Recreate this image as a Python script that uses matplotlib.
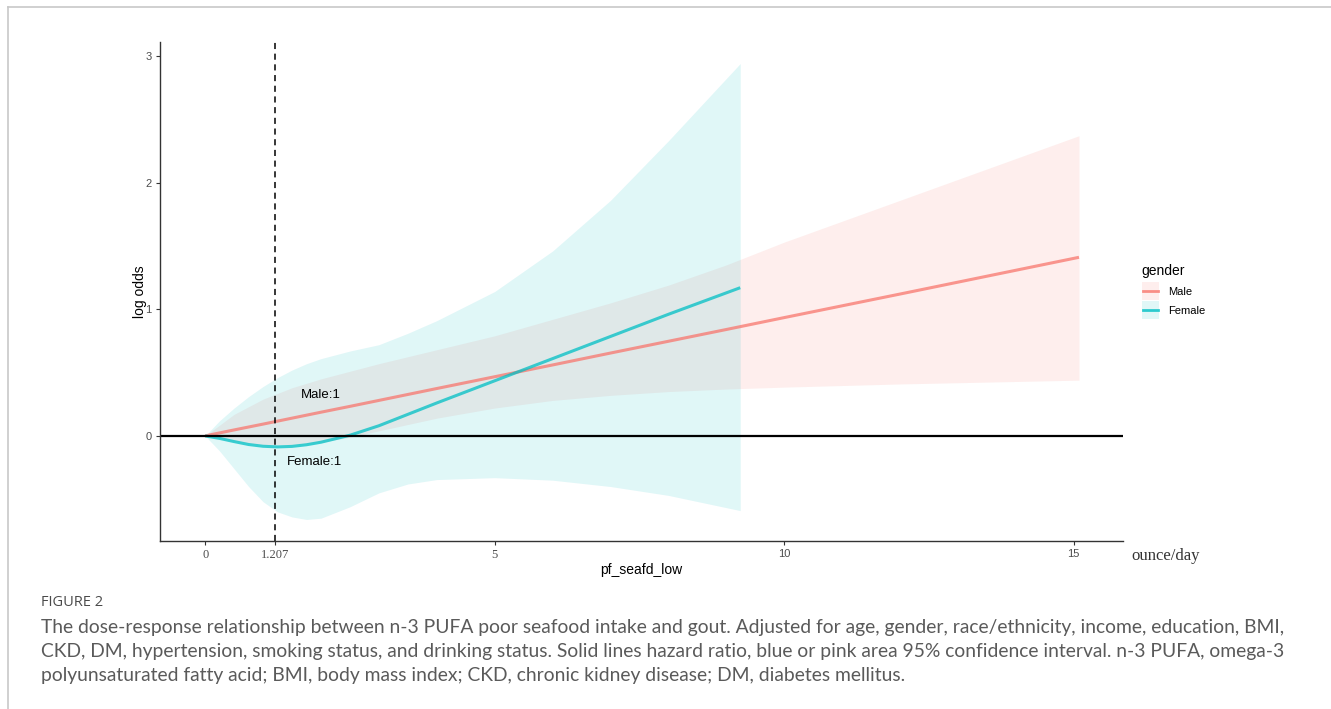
import matplotlib
matplotlib.use("Agg")
import matplotlib.pyplot as plt
from matplotlib.lines import Line2D
from matplotlib.patches import Rectangle

# ---- data ----
male_x     = [0, 0.5, 1.0, 1.5, 2.0, 2.5, 3.0, 4.0, 5.0, 6.0, 7.0, 8.0, 9.0, 10.0, 12.0, 15.09]
male_fit   = [0, 0.047, 0.093, 0.14, 0.187, 0.233, 0.28, 0.374, 0.467, 0.56, 0.654, 0.747, 0.84, 0.934, 1.12, 1.41]
male_lo    = [0, -0.04, -0.07, -0.07, -0.05, -0.01, 0.04, 0.14, 0.22, 0.28, 0.32, 0.35, 0.37, 0.385, 0.41, 0.44]
male_hi    = [0, 0.17, 0.29, 0.38, 0.45, 0.51, 0.57, 0.68, 0.79, 0.92, 1.05, 1.19, 1.35, 1.53, 1.86, 2.37]

fem_x      = [0, 0.25, 0.5, 0.75, 1.0, 1.25, 1.5, 1.75, 2.0, 2.5, 3.0, 3.5, 4.0, 5.0, 6.0, 7.0, 8.0, 9.24]
fem_fit    = [0, -0.02, -0.045, -0.068, -0.082, -0.087, -0.083, -0.07, -0.05, 0.005, 0.08, 0.17, 0.26, 0.435, 0.61, 0.785, 0.96, 1.17]
fem_lo     = [0, -0.12, -0.26, -0.40, -0.52, -0.60, -0.64, -0.66, -0.65, -0.56, -0.45, -0.38, -0.345, -0.33, -0.35, -0.40, -0.47, -0.59]
fem_hi     = [0, 0.12, 0.22, 0.31, 0.39, 0.46, 0.52, 0.57, 0.61, 0.67, 0.72, 0.81, 0.91, 1.14, 1.46, 1.86, 2.33, 2.94]

x_ticks      = [0, 1.207, 5, 10, 15]
x_ticklabels = ["0", "1.207", "5", "10", "15"]
y_ticks      = [0, 1, 2, 3]
cutoff       = 1.207

male_col = "#F8766D"
fem_col = "#00BFC4"
SANS = "Liberation Sans"

fig = plt.figure(figsize=(13.31, 7.09), dpi=100)

# frame lines of the page
fig.add_artist(Line2D([8/1331, 1], [1 - 7/709, 1 - 7/709], color="#c8c8c8", lw=1.2))
fig.add_artist(Line2D([8/1331, 8/1331], [0, 1 - 7/709], color="#c8c8c8", lw=1.2))

ax = fig.add_axes([160/1331, 1 - 541/709, 963/1331, 499/709])
ax.set_xlim(-0.78, 15.85)
ax.set_ylim(-0.83, 3.11)

ax.fill_between(male_x, male_lo, male_hi, color=male_col, alpha=0.12, lw=0)
ax.fill_between(fem_x, fem_lo, fem_hi, color=fem_col, alpha=0.12, lw=0)
ax.plot(male_x, male_fit, color=male_col, alpha=0.75, lw=2.2, solid_capstyle="butt")
ax.plot(fem_x, fem_fit, color=fem_col, alpha=0.75, lw=2.2, solid_capstyle="butt")

ax.axhline(0, color="black", lw=1.6)
ax.axvline(cutoff, color="black", lw=1.1, ls=(0, (4, 3)))

ax.text(2.0, 0.32, "Male:1", fontsize=9.5, ha="center", va="center", family=SANS)
ax.text(1.88, -0.21, "Female:1", fontsize=9.5, ha="center", va="center", family=SANS)

for s in ["top", "right"]:
    ax.spines[s].set_visible(False)
ax.spines["left"].set_color("#333333")
ax.spines["bottom"].set_color("#333333")
ax.spines["left"].set_linewidth(1.0)
ax.spines["bottom"].set_linewidth(1.0)

ax.set_xticks(x_ticks)
ax.set_xticklabels(x_ticklabels)
for i, lab in enumerate(ax.get_xticklabels()):
    lab.set_color("#4d4d4d")
    if i < 3:
        lab.set_family("Liberation Serif")
        lab.set_fontsize(9)
    else:
        lab.set_family(SANS)
        lab.set_fontsize(8)
ax.set_yticks(y_ticks)
ax.tick_params(axis="both", length=3, width=0.8, colors="#333333", labelcolor="#4d4d4d", pad=3)
for lab in ax.get_yticklabels():
    lab.set_family(SANS)
    lab.set_fontsize(8)
ax.set_xlabel("pf_seafd_low", fontsize=10, labelpad=1, family=SANS)
ax.set_ylabel("log odds", fontsize=10, labelpad=-1, family=SANS)

fig.text(1131/1331, 1 - 556/709, "ounce/day", fontsize=12, family="Liberation Serif",
         ha="left", va="center", color="#333333")

# legend
from matplotlib.legend_handler import HandlerBase

class BoxLine(HandlerBase):
    def __init__(self, col, **kw):
        super().__init__(**kw)
        self.col = col
    def create_artists(self, legend, orig, xd, yd, w, h, fs, trans):
        r = Rectangle((-xd, -yd - 2), w, h + 4, facecolor=self.col, alpha=0.12, lw=0, transform=trans)
        l = Line2D([-xd + 1, -xd + w - 1], [-yd + h / 2, -yd + h / 2], color=self.col, lw=2, alpha=0.8, transform=trans)
        return [r, l]

hm = Line2D([], [], color=male_col)
hf = Line2D([], [], color=fem_col)
leg = ax.legend([hm, hf], ["Male", "Female"], title="gender", frameon=False,
                loc="center left", bbox_to_anchor=(1.009, 0.503),
                prop={"family": SANS, "size": 8}, title_fontproperties={"family": SANS, "size": 10},
                handlelength=1.6, handleheight=1.3, labelspacing=0.65, handletextpad=0.8,
                handler_map={hm: BoxLine(male_col), hf: BoxLine(fem_col)})
leg._legend_box.align = "left"

# caption
cap_col = "#5a5a5a"
fig.text(41/1331, 1 - 603/709, "FIGURE 2", fontsize=10.5, family="Open Sans", color="#4a4a4a",
         ha="left", va="center")
lines = [
    "The dose-response relationship between n-3 PUFA poor seafood intake and gout. Adjusted for age, gender, race/ethnicity, income, education, BMI,",
    "CKD, DM, hypertension, smoking status, and drinking status. Solid lines hazard ratio, blue or pink area 95% confidence interval. n-3 PUFA, omega-3",
    "polyunsaturated fatty acid; BMI, body mass index; CKD, chronic kidney disease; DM, diabetes mellitus.",
]
for i, t in enumerate(lines):
    fig.text(41/1331, 1 - (628 + 24 * i)/709, t, fontsize=13.9, family="Lato",
             color=cap_col, ha="left", va="center")

fig.savefig("out.png", dpi=100)
